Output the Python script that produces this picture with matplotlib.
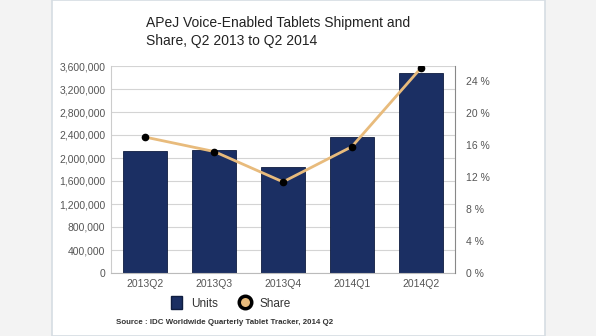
import matplotlib.pyplot as plt
from matplotlib.lines import Line2D
from matplotlib.patches import Patch, Rectangle

plt.rcParams['font.family'] = ['Liberation Sans', 'DejaVu Sans']

quarters = ['2013Q2', '2013Q3', '2013Q4', '2014Q1', '2014Q2']
units = [2120000, 2140000, 1840000, 2370000, 3480000]
share = [17.0, 15.2, 11.4, 15.8, 25.6]

navy = '#1b2f63'
tan = '#e8bb7c'
grey = '#555555'

fig = plt.figure(figsize=(5.96, 3.36), dpi=100)
fig.patch.set_facecolor('#f3f3f3')
fig.patches.append(Rectangle((52 / 596, 0), 493 / 596, 1, transform=fig.transFigure,
                             facecolor='white', edgecolor='#d6dde3', lw=1.2, zorder=-10))

ax = fig.add_axes([111 / 596, 1 - 273 / 336, 344 / 596, 207 / 336])
ax.set_facecolor('none')
x = range(len(quarters))
ax.bar(x, units, width=0.64, color=navy, edgecolor='#0f1d40', lw=0.6, zorder=2)
ax.set_xlim(-0.5, 4.5)
ax.set_ylim(0, 3600000)
ticks = list(range(0, 3600001, 400000))
ax.set_yticks(ticks)
ax.set_yticklabels([f'{t:,}' for t in ticks])
ax.grid(axis='y', color='#d4d4d4', lw=0.8, zorder=0)
ax.set_xticks(list(x))
ax.set_xticklabels(quarters)
ax.tick_params(colors=grey, labelsize=7.5, length=0, pad=4)
for s in ['top', 'right']:
    ax.spines[s].set_visible(False)
ax.spines['left'].set_color('#cccccc')
ax.spines['bottom'].set_color('#bbbbbb')

ax2 = ax.twinx()
ax2.plot(x, share, color=tan, lw=2, marker='o', ms=4.5, mfc='black', mec='black', zorder=3)
ax2.set_ylim(0, 25.9)
ax2.set_yticks(range(0, 25, 4))
ax2.set_yticklabels([f'{t} %' for t in range(0, 25, 4)])
ax2.tick_params(colors=grey, labelsize=7.5, length=0, pad=8)
for s in ['top', 'left', 'bottom']:
    ax2.spines[s].set_visible(False)
ax2.spines['right'].set_color('#888888')

fig.text(146 / 596, 1 - 32 / 336, 'APeJ Voice-Enabled Tablets Shipment and\nShare, Q2 2013 to Q2 2014',
         fontsize=10, color='#222222', va='center', ha='left', linespacing=1.45)

handles = [Patch(facecolor=navy, edgecolor='#0f1d40'),
           Line2D([], [], marker='o', color='none', mfc=tan, mec='black', mew=2.5, ms=9)]
fig.legend(handles, ['Units', 'Share'], ncol=2, frameon=False, loc='center',
           bbox_to_anchor=(231 / 596, 1 - 303 / 336), fontsize=8.5, labelcolor='#333333',
           handlelength=0.9, handleheight=1.3, columnspacing=1.8, handletextpad=0.8)

fig.text(116 / 596, 1 - 323 / 336, 'Source : IDC Worldwide Quarterly Tablet Tracker, 2014 Q2',
         fontsize=5.7, color='#333333', fontweight='bold', va='center', ha='left')

fig.savefig('out.png', dpi=100)
